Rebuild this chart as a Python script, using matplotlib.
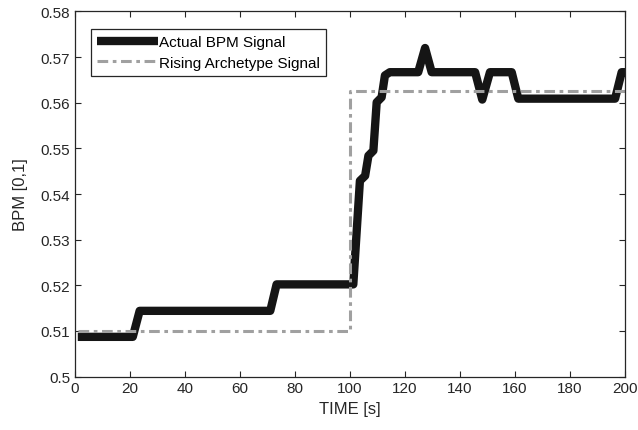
import numpy as np
import matplotlib
matplotlib.use('Agg')
import matplotlib.pyplot as plt
from matplotlib.ticker import FormatStrFormatter, MultipleLocator

# actual BPM signal
actual_t = [1, 21, 23.5, 71, 73.3, 101.2, 103.6, 105.5, 106.7, 108.5, 109.7,
            111.5, 112.7, 114.5, 124.8, 127.3, 129.7, 145.5, 148.1, 150.9,
            158.8, 161.2, 196.4, 198.8, 200]
actual_bpm = [0.5087, 0.5087, 0.5144, 0.5144, 0.5202, 0.5202, 0.5429, 0.5440,
              0.5484, 0.5495, 0.5601, 0.5612, 0.5660, 0.5667, 0.5667, 0.5720,
              0.5667, 0.5667, 0.5607, 0.5667, 0.5667, 0.5609, 0.5609, 0.5667,
              0.5667]

# rising archetype
arch_t = [1, 100, 100, 200]
arch_bpm = [0.51, 0.51, 0.5625, 0.5625]

plt.rcParams['font.family'] = ['Liberation Sans', 'DejaVu Sans']
plt.rcParams['font.size'] = 11

fig = plt.figure(figsize=(6.38, 4.31), dpi=100)
ax = fig.add_axes([0.1176, 0.124, 0.862, 0.847])

ax.plot(actual_t, actual_bpm, color='#151515', lw=6, solid_joinstyle='round',
        solid_capstyle='butt', label='Actual BPM Signal')
ax.plot(arch_t, arch_bpm, color='#a0a0a0', lw=2.2, dashes=(3.5, 1.5, 1.2, 1.5),
        label='Rising Archetype Signal')

ax.set_xlim(0, 200)
ax.set_ylim(0.5, 0.58)
ax.xaxis.set_major_locator(MultipleLocator(20))
ax.yaxis.set_major_locator(MultipleLocator(0.01))
ax.yaxis.set_major_formatter(FormatStrFormatter('%g'))
ax.tick_params(direction='in', top=True, right=True, length=4, colors='#262626',
               labelsize=11)
for s in ax.spines.values():
    s.set_color('#262626')
    s.set_linewidth(0.9)

ax.set_xlabel('TIME [s]', fontsize=12, color='#262626')
ax.set_ylabel('BPM [0,1]', fontsize=12, color='#262626', labelpad=9)

leg = ax.legend(loc='upper left', bbox_to_anchor=(0.0285, 0.9526), fancybox=False,
                edgecolor='#262626', framealpha=1, borderpad=0.4,
                handlelength=4.0, handletextpad=0.1, labelspacing=0.45,
                borderaxespad=0, fontsize=11)
leg.get_frame().set_linewidth(0.9)

fig.savefig('out.png', dpi=100)
